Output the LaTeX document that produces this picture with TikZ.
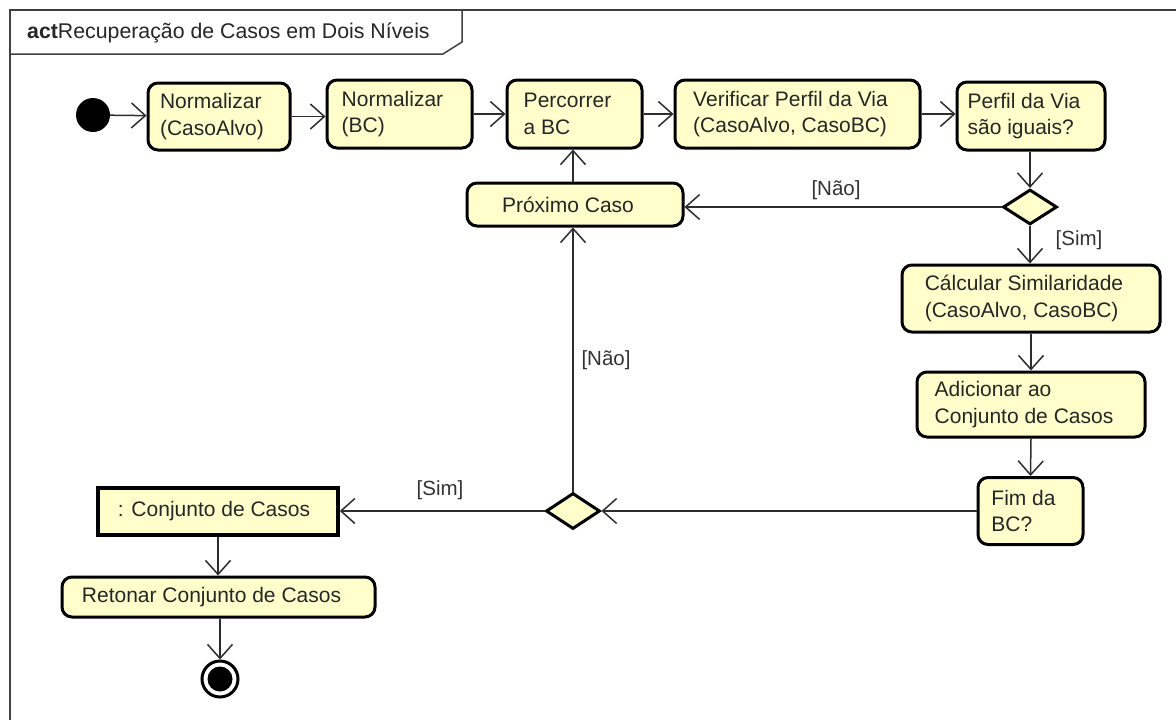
\documentclass[tikz,border=0pt]{standalone}
\usepackage{fontspec}
\setmainfont{Liberation Sans}
\usetikzlibrary{shapes.geometric,arrows.meta}
\definecolor{actfill}{RGB}{255,255,204}
\definecolor{edgecol}{RGB}{45,45,45}
\begin{document}
\begin{tikzpicture}[x=1pt,y=-1pt,
  every node/.style={font=\fontsize{21}{26.5}\selectfont, text=black!85},
  action/.style={draw=black, line width=3pt, fill=actfill, rounded corners=10pt,
    align=left, inner sep=0pt, execute at end node={\hspace{14pt}}},
  objnode/.style={draw=black, line width=3.5pt, fill=actfill, align=left, inner sep=0pt,
    execute at end node={\hspace{8pt}}},
  decision/.style={diamond, draw=black, line width=3pt, fill=actfill, inner sep=0pt},
  flow/.style={draw=edgecol, line width=1.5pt,
    -{Straight Barb[length=14pt,width=25pt,line width=1.5pt]}},
  guard/.style={font=\fontsize{20.5}{24}\selectfont, text=black!80, inner sep=0pt},
  frameline/.style={draw=black!75, line width=1.5pt}]
\useasboundingbox (0,0) rectangle (1176,720);

% diagram frame and its name tab
\draw[frameline] (10,730) -- (10,10) -- (1190,10);
\draw[frameline] (10,10) -- (462,10) -- (462,42) -- (443,54) -- (10,54);
\node[anchor=west, inner sep=0pt, font=\fontsize{21.3}{25}\selectfont] (title) at (27,33)
  {\textbf{act}Recuperação de Casos em Dois Níveis};

% initial and final nodes
\node[circle, fill=black, minimum size=34pt, inner sep=0pt] (start) at (93,115) {};
\node[circle, draw=black, line width=3pt, fill=white, minimum size=36pt, inner sep=0pt] (stop) at (220,679) {};
\node[circle, fill=black, minimum size=25pt, inner sep=0pt] (stopdot) at (220,679) {};

% actions
\node[action, minimum width=142pt, minimum height=67pt] (n1) at (219,116.5) {Normalizar\\(CasoAlvo)};
\node[action, minimum width=145pt, minimum height=68pt] (n2) at (399.5,114) {Normalizar\\(BC)\hspace{20pt}};
\node[action, minimum width=135pt, minimum height=68pt] (perc) at (574.5,114) {Percorrer\\a BC};
\node[action, minimum width=245pt, minimum height=68pt] (verif) at (797.5,114) {Verificar Perfil da Via\\(CasoAlvo, CasoBC)};
\node[action, minimum width=148pt, minimum height=68pt] (perfil) at (1031,116) {Perfil da Via\\são iguais?};
\node[action, minimum width=216pt, minimum height=43pt] (prox) at (575,204.5) {Próximo Caso};
\node[action, minimum width=258pt, minimum height=67pt] (calc) at (1031,298.5) {Cálcular Similaridade\\(CasoAlvo, CasoBC)};
\node[action, minimum width=228pt, minimum height=65pt] (adic) at (1031,404.5) {Adicionar ao\\Conjunto de Casos};
\node[action, minimum width=105pt, minimum height=67pt] (fim) at (1030.5,511) {Fim da\\BC?};
\node[action, minimum width=313pt, minimum height=40pt] (ret) at (218.5,597) {Retonar Conjunto de Casos};

% object node
\node[objnode, minimum width=240pt, minimum height=47pt] (conj) at (218,511.5) {: Conjunto de Casos};

% decisions
\node[decision, minimum width=54pt, minimum height=35pt] (d1) at (1030,207) {};
\node[decision, minimum width=54pt, minimum height=36pt] (d2) at (573,511) {};

% control flows
\draw[flow] (start) -- (n1);
\draw[flow] (n1) -- (n1 -| n2.west);
\draw[flow] (n2) -- (perc);
\draw[flow] (perc) -- (verif);
\draw[flow] (verif) -- (verif -| perfil.west);
\draw[flow] (perfil.south -| d1) -- (d1.north);
\draw[flow] (d1.west) -- (prox.east |- d1.west);
\draw[flow] (d1.south) -- (calc.north -| d1);
\draw[flow] (calc.south) -- (adic.north);
\draw[flow] (adic.south) -- (fim.north);
\draw[flow] (fim.west) -- (d2.east);
\draw[flow] (d2.north) -- (prox.south -| d2);
\draw[flow] (prox.north -| d2) -- (perc.south -| d2);
\draw[flow] (d2.west) -- (conj.east |- d2.west);
\draw[flow] (conj.south) -- (ret.north -| conj.south);
\draw[flow] (ret.south -| stop) -- (stop.north);

% guards
\node[guard] (g1) at (836,190) {[Não]};
\node[guard] (g2) at (1079,240) {[Sim]};
\node[guard] (g3) at (606,360) {[Não]};
\node[guard] (g4) at (440,490) {[Sim]};
\end{tikzpicture}
\end{document}
